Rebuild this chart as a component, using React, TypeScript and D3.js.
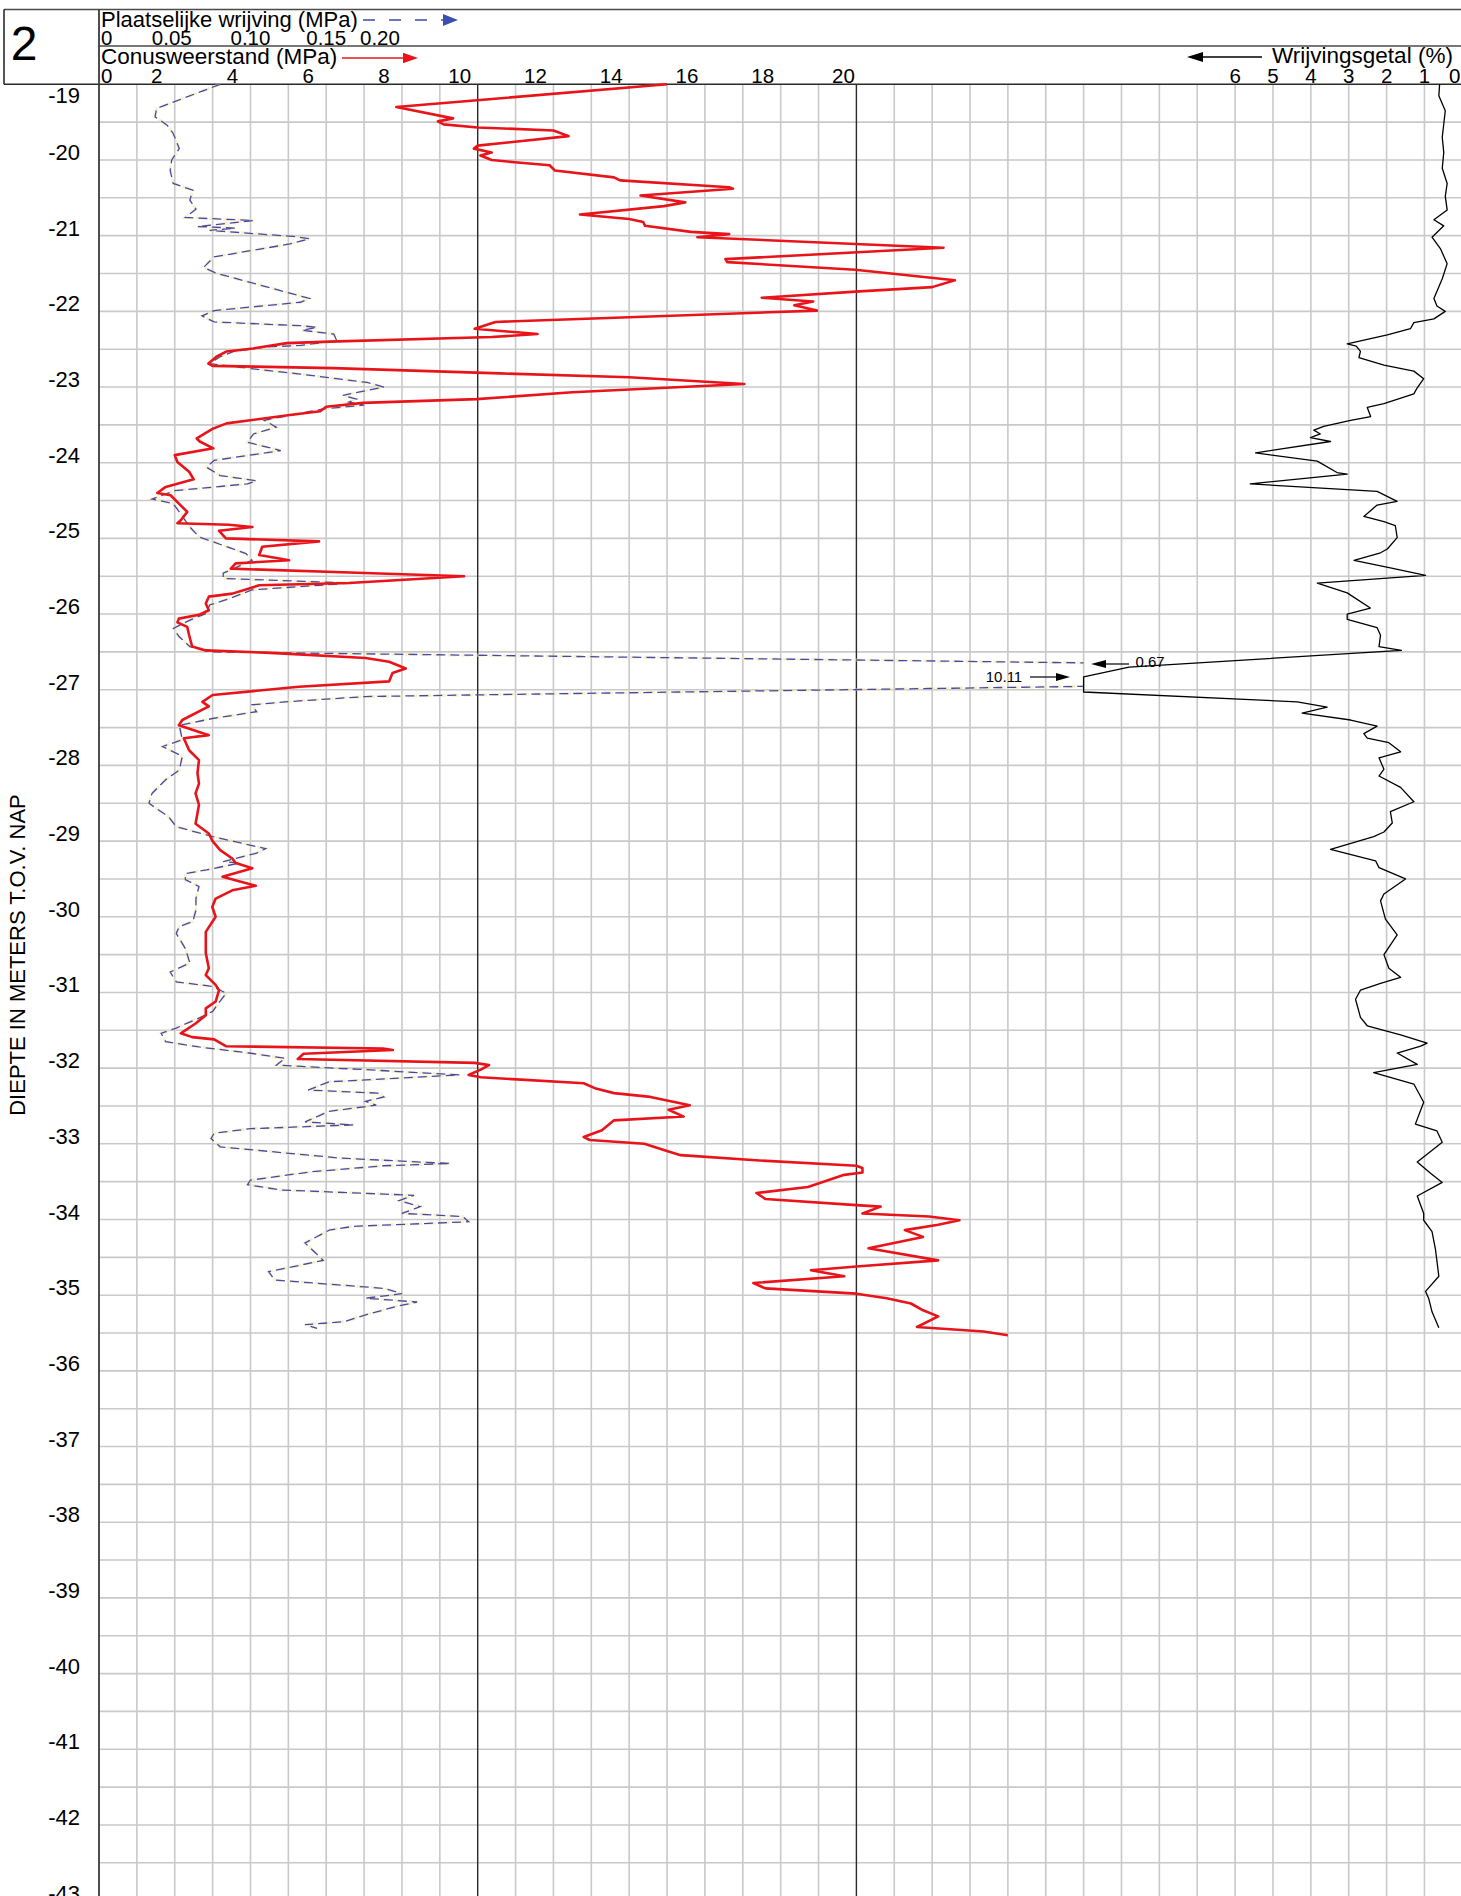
import React from 'react';
import * as d3 from 'd3';

const W = 1461;
const H = 1896;

// Conusweerstand (MPa) vs depth (m NAP)
const conusDepth = [
  -19.0, -19.3, -19.45, -19.49, -19.53, -19.57, -19.61, -19.685, -19.76, -19.81, -19.85, -19.9, -19.94, -20.0,
  -20.03, -20.07, -20.14, -20.23, -20.27, -20.36, -20.38, -20.47, -20.56, -20.61, -20.72, -20.78, -20.82, -20.87,
  -20.95, -20.98, -21.02, -21.16, -21.31, -21.35, -21.45, -21.59, -21.68, -21.74, -21.82, -21.87, -21.92, -21.99,
  -22.14, -22.23, -22.3, -22.34, -22.4, -22.42, -22.49, -22.53, -22.6, -22.69, -22.72, -22.75, -22.82, -22.87,
  -22.96, -23.07, -23.16, -23.21, -23.26, -23.32, -23.37, -23.48, -23.55, -23.68, -23.72, -23.81, -23.9, -23.99,
  -24.12, -24.22, -24.32, -24.4, -24.43, -24.54, -24.65, -24.76, -24.8, -24.82, -24.85, -24.9, -25.0, -25.04,
  -25.11, -25.22, -25.29, -25.33, -25.4, -25.46, -25.5, -25.59, -25.62, -25.73, -25.77, -25.86, -25.95, -26.01,
  -26.06, -26.11, -26.17, -26.28, -26.43, -26.48, -26.51, -26.58, -26.63, -26.72, -26.78, -26.89, -26.96, -27.07,
  -27.16, -27.22, -27.4, -27.47, -27.6, -27.64, -27.8, -27.93, -28.1, -28.24, -28.37, -28.52, -28.77, -28.9,
  -29.0, -29.12, -29.23, -29.29, -29.36, -29.47, -29.59, -29.65, -29.76, -29.87, -30.0, -30.2, -30.48, -30.68,
  -30.77, -30.9, -30.97, -31.12, -31.21, -31.3, -31.41, -31.54, -31.59, -31.62, -31.71, -31.74, -31.76, -31.81,
  -31.88, -31.93, -31.96, -32.02, -32.09, -32.12, -32.2, -32.27, -32.33, -32.38, -32.49, -32.55, -32.64, -32.69,
  -32.82, -32.91, -32.95, -33.0, -33.1, -33.15, -33.22, -33.29, -33.32, -33.38, -33.41, -33.57, -33.65, -33.73,
  -33.81, -33.83, -33.92, -33.96, -34.01, -34.07, -34.14, -34.23, -34.38, -34.54, -34.62, -34.67, -34.75, -34.84,
  -34.91, -34.98, -35.04, -35.11, -35.2, -35.28, -35.42, -35.48, -35.53,
];
const conusValue = [
  15.0, 7.85, 9.35, 8.95, 9.1, 10.0, 12.0, 12.4, 10.98, 10.0, 9.9, 10.37, 10.07, 10.37,
  10.98, 11.9, 12.04, 13.6, 13.76, 16.64, 16.74, 14.3, 15.48, 14.92, 12.7, 14.0, 14.37, 14.42,
  15.63, 16.64, 15.8, 22.3, 16.54, 16.59, 19.97, 22.6, 22.0, 19.97, 17.5, 18.86, 18.36, 18.96,
  10.47, 9.92, 11.58, 10.37, 6.1, 4.96, 4.07, 3.37, 3.1, 2.89, 3.0, 6.18, 10.59, 14.0,
  17.04, 12.5, 9.97, 6.98, 6.0, 5.84, 5.04, 3.37, 3.01, 2.58, 2.66, 3.02, 2.0, 2.07,
  2.38, 2.5, 1.76, 1.54, 1.89, 2.11, 2.33, 2.16, 2.07, 3.43, 4.05, 3.17, 3.35, 5.81,
  4.31, 4.23, 5.02, 3.61, 3.48, 7.22, 9.64, 6.6, 4.23, 3.52, 2.9, 2.82, 2.9, 2.64,
  2.11, 2.07, 2.33, 2.38, 2.46, 2.82, 4.4, 7.04, 7.66, 8.1, 7.75, 7.66, 5.28, 3.0,
  2.73, 2.9, 2.2, 2.11, 2.9, 2.24, 2.38, 2.64, 2.6, 2.64, 2.55, 2.64, 2.55, 2.9,
  3.0, 3.2, 3.52, 3.61, 4.05, 3.26, 4.14, 3.52, 3.08, 2.99, 3.08, 2.82, 2.82, 2.9,
  2.82, 3.08, 3.17, 3.08, 2.82, 2.82, 2.55, 2.16, 2.46, 3.04, 3.35, 7.5, 7.76, 5.4,
  5.25, 9.92, 10.3, 10.08, 9.76, 10.08, 12.8, 13.12, 13.6, 14.56, 15.6, 15.04, 15.44, 13.6,
  13.28, 12.8, 12.96, 14.4, 15.04, 15.36, 17.44, 20.0, 20.16, 20.16, 19.68, 18.72, 17.36, 17.6,
  20.0, 20.64, 20.16, 21.92, 22.72, 22.16, 21.28, 21.76, 20.32, 22.16, 20.0, 18.8, 19.68, 17.28,
  17.6, 20.0, 20.8, 21.44, 21.76, 22.16, 21.6, 23.36, 24.0,
];

// Plaatselijke wrijving (MPa) vs depth
const frictionDepth = [
  -19.0, -19.32, -19.43, -19.54, -19.65, -19.85, -20.0, -20.14, -20.31, -20.4, -20.53, -20.65, -20.76, -20.8,
  -20.88, -20.9, -20.93, -21.01, -21.04, -21.11, -21.28, -21.42, -21.5, -21.83, -21.88, -21.99, -22.06, -22.14,
  -22.19, -22.21, -22.25, -22.3, -22.39, -22.45, -22.47, -22.53, -22.6, -22.69, -22.74, -22.83, -22.94, -23.0,
  -23.11, -23.16, -23.2, -23.24, -23.29, -23.44, -23.53, -23.62, -23.73, -23.84, -23.97, -24.06, -24.17, -24.24,
  -24.28, -24.37, -24.48, -24.54, -24.65, -24.85, -24.98, -25.2, -25.29, -25.46, -25.53, -25.59, -25.68, -25.81,
  -25.88, -25.99, -26.08, -26.19, -26.3, -26.43, -26.5, -26.65, -26.8, -26.95, -27.06, -27.09, -27.16, -27.2,
  -27.29, -27.38, -27.47, -27.66, -27.75, -27.88, -28.06, -28.19, -28.37, -28.5, -28.68, -28.81, -28.94, -29.1,
  -29.16, -29.27, -29.29, -29.38, -29.43, -29.51, -29.6, -29.76, -29.91, -30.06, -30.13, -30.22, -30.42, -30.61,
  -30.73, -30.86, -30.92, -31.01, -31.14, -31.25, -31.32, -31.47, -31.54, -31.65, -31.72, -31.8, -31.87, -31.96,
  -32.02, -32.09, -32.13, -32.18, -32.29, -32.33, -32.38, -32.44, -32.49, -32.57, -32.71, -32.75, -32.8, -32.86,
  -32.93, -33.04, -33.19, -33.26, -33.29, -33.37, -33.48, -33.54, -33.61, -33.68, -33.75, -33.83, -33.92, -33.96,
  -34.03, -34.09, -34.14, -34.31, -34.54, -34.69, -34.8, -34.91, -34.98, -35.04, -35.09, -35.15, -35.26, -35.35,
  -35.39, -35.44,
];
const frictionValue = [
  0.080, 0.038, 0.037, 0.045, 0.049, 0.053, 0.048, 0.047, 0.049, 0.062, 0.060, 0.064, 0.057, 0.102,
  0.065, 0.090, 0.073, 0.128, 0.139, 0.126, 0.076, 0.069, 0.078, 0.139, 0.133, 0.076, 0.068, 0.076,
  0.133, 0.144, 0.134, 0.155, 0.157, 0.133, 0.111, 0.089, 0.080, 0.073, 0.093, 0.133, 0.177, 0.188,
  0.161, 0.170, 0.165, 0.175, 0.148, 0.109, 0.117, 0.102, 0.098, 0.120, 0.076, 0.071, 0.080, 0.104,
  0.098, 0.050, 0.035, 0.049, 0.053, 0.060, 0.066, 0.097, 0.101, 0.082, 0.082, 0.167, 0.101, 0.084,
  0.073, 0.071, 0.060, 0.049, 0.053, 0.060, 0.073, 0.67, 0.69, 0.67, 0.277, 0.176, 0.123, 0.101,
  0.104, 0.075, 0.053, 0.055, 0.042, 0.055, 0.053, 0.044, 0.035, 0.033, 0.046, 0.051, 0.075, 0.110,
  0.104, 0.082, 0.093, 0.071, 0.057, 0.057, 0.066, 0.064, 0.064, 0.062, 0.053, 0.051, 0.057, 0.060,
  0.047, 0.051, 0.075, 0.084, 0.079, 0.075, 0.068, 0.051, 0.041, 0.044, 0.066, 0.099, 0.123, 0.117,
  0.176, 0.238, 0.200, 0.152, 0.138, 0.184, 0.188, 0.176, 0.183, 0.152, 0.136, 0.168, 0.100, 0.076,
  0.074, 0.080, 0.160, 0.232, 0.188, 0.140, 0.100, 0.098, 0.120, 0.208, 0.198, 0.212, 0.200, 0.240,
  0.244, 0.168, 0.152, 0.136, 0.148, 0.112, 0.116, 0.188, 0.200, 0.176, 0.210, 0.196, 0.176, 0.162,
  0.136, 0.144,
];

// Wrijvingsgetal (%) vs depth
const ratioDepth = [
  -19.0, -19.15, -19.35, -19.7, -19.9, -20.11, -20.31, -20.48, -20.66, -20.79, -20.87, -21.02, -21.17, -21.37,
  -21.57, -21.83, -21.93, -22.0, -22.1, -22.15, -22.23, -22.31, -22.43, -22.46, -22.53, -22.61, -22.71, -22.79,
  -22.89, -23.01, -23.09, -23.22, -23.27, -23.39, -23.44, -23.52, -23.57, -23.62, -23.67, -23.72, -23.87, -23.98,
  -24.13, -24.15, -24.28, -24.38, -24.51, -24.56, -24.71, -24.78, -24.83, -24.99, -25.14, -25.19, -25.29, -25.39,
  -25.49, -25.59, -25.72, -25.92, -26.0, -26.07, -26.18, -26.28, -26.43, -26.48, -26.7, -26.83, -27.03, -27.16,
  -27.23, -27.31, -27.4, -27.48, -27.58, -27.64, -27.7, -27.82, -27.9, -28.05, -28.14, -28.29, -28.48, -28.61,
  -28.76, -28.88, -28.94, -29.11, -29.26, -29.35, -29.5, -29.7, -29.79, -30.03, -30.24, -30.5, -30.68, -30.8,
  -30.88, -30.97, -31.09, -31.33, -31.44, -31.56, -31.67, -31.71, -31.8, -31.95, -32.06, -32.21, -32.45, -32.74,
  -32.83, -32.98, -33.24, -33.39, -33.51, -33.69, -33.92, -34.01, -34.16, -34.39, -34.75, -34.95, -35.04, -35.22,
  -35.43,
];
const ratioValue = [
  0.6, 0.62, 0.45, 0.53, 0.49, 0.53, 0.4, 0.45, 0.4, 0.75, 0.49, 0.8, 0.58, 0.4,
  0.53, 0.75, 0.67, 0.45, 0.75, 1.28, 1.37, 1.98, 3.04, 2.8, 2.69, 2.73, 2.07, 1.28,
  1.02, 1.19, 1.28, 2.07, 2.51, 2.42, 2.95, 3.66, 3.92, 3.75, 4.01, 3.48, 5.46, 3.83,
  3.31, 3.04, 5.6, 2.25, 1.72, 2.25, 2.6, 2.07, 1.77, 1.72, 1.98, 2.16, 2.86, 1.9,
  0.97, 3.83, 3.04, 2.43, 3.04, 3.04, 2.25, 2.16, 2.2, 1.61, 8.8, 10.11, 10.11, 4.36,
  3.57, 4.23, 2.95, 2.25, 2.6, 2.51, 1.94, 1.63, 2.2, 2.07, 2.2, 1.63, 1.28, 1.9,
  1.85, 2.07, 2.34, 3.48, 2.29, 2.2, 1.5, 2.07, 2.16, 2.03, 1.72, 2.07, 1.94, 1.63,
  2.16, 2.69, 2.82, 2.69, 2.51, 1.63, 0.93, 1.1, 1.72, 1.19, 2.34, 1.28, 1.02, 1.24,
  0.67, 0.53, 1.19, 0.84, 0.53, 1.19, 1.02, 1.02, 0.8, 0.71, 0.62, 0.97, 0.89, 0.8,
  0.62,
];

const conusTicks = [0, 2, 4, 6, 8, 10, 12, 14, 16, 18, 20];
const frictionTickValues = [0, 0.05, 0.1, 0.15, 0.2];
const frictionTickLabels = ['0', '0.05', '0.10', '0.15', '0.20'];
const ratioTicks = [6, 5, 4, 3, 2, 1, 0];
const depthTicks = d3.range(-19, -44, -1);

const FONT = '"Liberation Sans", Arial, Helvetica, sans-serif';

export default function App() {
  const left = 99;
  const unit = 37.87;
  const top = 84.3;
  const perM = 75.68;
  const right = left + 36 * unit;

  const x = d3.scaleLinear().domain([0, 36]).range([left, right]);
  const xf = d3.scaleLinear().domain([0, 0.9]).range([left, right]);
  const xr = d3.scaleLinear().domain([0, 36]).range([right, left]);
  const y = d3.scaleLinear().domain([-19, -43]).range([top, top + 24 * perM]);

  const conusLine = d3.line<number>().x((_, i) => x(conusValue[i])).y((d) => y(d));
  const frictionLine = d3.line<number>().x((_, i) => xf(frictionValue[i])).y((d) => y(d));
  const ratioLine = d3
    .line<number>()
    .x((_, i) => xr(Math.min(ratioValue[i], 10)))
    .y((d) => y(d));

  const vGrid = d3.range(1, 37);
  const hGrid = d3.range(-19.5, -43.01, -0.5);
  const clipX = x(26);

  return (
    <svg
      width={W}
      height={H}
      style={{ position: 'absolute', left: 0, top: 0, background: '#fff' }}
      fontFamily={FONT}
    >
      <defs>
        <clipPath id="fclip">
          <rect x={left} y={top} width={clipX - left} height={H - top} />
        </clipPath>
      </defs>
      <rect x={0} y={0} width={W} height={H} fill="#fff" />

      {/* grid */}
      {hGrid.map((d) => (
        <line key={'h' + d} x1={left} x2={W} y1={y(d)} y2={y(d)} stroke="#c9c9c9" strokeWidth={1.6} />
      ))}
      {vGrid.map((k) => (
        <line
          key={'v' + k}
          x1={x(k)}
          x2={x(k)}
          y1={top}
          y2={H}
          stroke={k === 10 || k === 20 ? '#2a2a2a' : '#c9c9c9'}
          strokeWidth={k === 10 || k === 20 ? 1.4 : 1.6}
        />
      ))}

      {/* header frame */}
      <line x1={4} x2={W} y1={9.5} y2={9.5} stroke="#4a4a4a" strokeWidth={1.6} />
      <line x1={left} x2={W} y1={46} y2={46} stroke="#4a4a4a" strokeWidth={1.4} />
      <line x1={4} x2={W} y1={top} y2={top} stroke="#2a2a2a" strokeWidth={1.6} />
      <line x1={4} x2={4} y1={9.5} y2={top} stroke="#2a2a2a" strokeWidth={1.6} />
      <line x1={left} x2={left} y1={9.5} y2={H} stroke="#3a3a3a" strokeWidth={1.8} />

      <text x={24} y={60} fontSize={48} textAnchor="middle" fill="#000">2</text>

      <text x={101} y={27} fontSize={22} fill="#000">Plaatselijke wrijving (MPa)</text>
      <line x1={363} x2={443} y1={20} y2={20} stroke="#3a4aa8" strokeWidth={1.4} strokeDasharray="12,14" />
      <polygon points="443,14 458,20 443,26" fill="#3a4fb0" />

      {frictionTickValues.map((v, i) => (
        <text
          key={'ft' + v}
          x={i === 0 ? xf(v) + 2 : xf(v) + (v === 0.2 ? -22 : v === 0.05 ? -3 : 0)}
          y={45}
          fontSize={20.5}
          textAnchor={i === 0 ? 'start' : 'middle'}
          fill="#000"
        >
          {frictionTickLabels[i]}
        </text>
      ))}

      <text x={101} y={64} fontSize={22.5} fill="#000">Conusweerstand (MPa)</text>
      <line x1={342} x2={405} y1={58} y2={58} stroke="#e8141a" strokeWidth={1.6} />
      <polygon points="403,52.7 418,58 403,63.3" fill="#e8141a" />

      {conusTicks.map((v) => (
        <text
          key={'ct' + v}
          x={v === 0 ? x(0) + 2 : x(v) + (v === 20 ? -13 : -18)}
          y={83}
          fontSize={20.5}
          textAnchor={v === 0 ? 'start' : 'middle'}
          fill="#000"
        >
          {v}
        </text>
      ))}

      <text x={1272} y={63} fontSize={22.5} fill="#000">Wrijvingsgetal (%)</text>
      <line x1={1200} x2={1262} y1={57} y2={57} stroke="#000" strokeWidth={1.6} />
      <polygon points="1203,52 1187,57 1203,62" fill="#000" />
      {ratioTicks.map((v) => (
        <text
          key={'rt' + v}
          x={v === 0 ? W - 0.5 : xr(v)}
          y={83}
          fontSize={20.5}
          textAnchor={v === 0 ? 'end' : 'middle'}
          fill="#000"
        >
          {v}
        </text>
      ))}

      {/* depth axis */}
      {depthTicks.map((d) => (
        <text
          key={'d' + d}
          x={80}
          y={d === -19 ? 103 : y(d)}
          fontSize={22}
          textAnchor="end"
          fill="#000"
        >
          {d}
        </text>
      ))}
      <text
        transform={`translate(25,955) rotate(-90)`}
        fontSize={22}
        textAnchor="middle"
        fill="#000"
      >
        DIEPTE IN METERS T.O.V. NAP
      </text>

      {/* series */}
      <path
        d={frictionLine(frictionDepth) || ''}
        fill="none"
        stroke="#f2e8b0"
        strokeWidth={3}
        strokeDasharray="9,5"
        strokeDashoffset={3}
        clipPath="url(#fclip)"
        opacity={0.6}
      />
      <path
        d={frictionLine(frictionDepth) || ''}
        fill="none"
        stroke="#4848a0"
        strokeWidth={1.3}
        strokeDasharray="9,5"
        clipPath="url(#fclip)"
      />
      <path d={conusLine(conusDepth) || ''} fill="none" stroke="#e8141a" strokeWidth={2.6} strokeLinejoin="round" />
      <path d={ratioLine(ratioDepth) || ''} fill="none" stroke="#000" strokeWidth={1.3} strokeLinejoin="round" />

      {/* annotations for clipped values */}
      <text x={1150} y={667} fontSize={15} textAnchor="middle" fill="#000">0.67</text>
      <line x1={1105} x2={1129} y1={664} y2={664} stroke="#000" strokeWidth={1.2} />
      <polygon points="1091,664 1106,660 1106,668" fill="#000" />
      <text x={1004} y={682} fontSize={15} textAnchor="middle" fill="#000">10.11</text>
      <line x1={1030} x2={1058} y1={677} y2={677} stroke="#000" strokeWidth={1.2} />
      <polygon points="1070,677 1056,673 1056,681" fill="#000" />
    </svg>
  );
}
